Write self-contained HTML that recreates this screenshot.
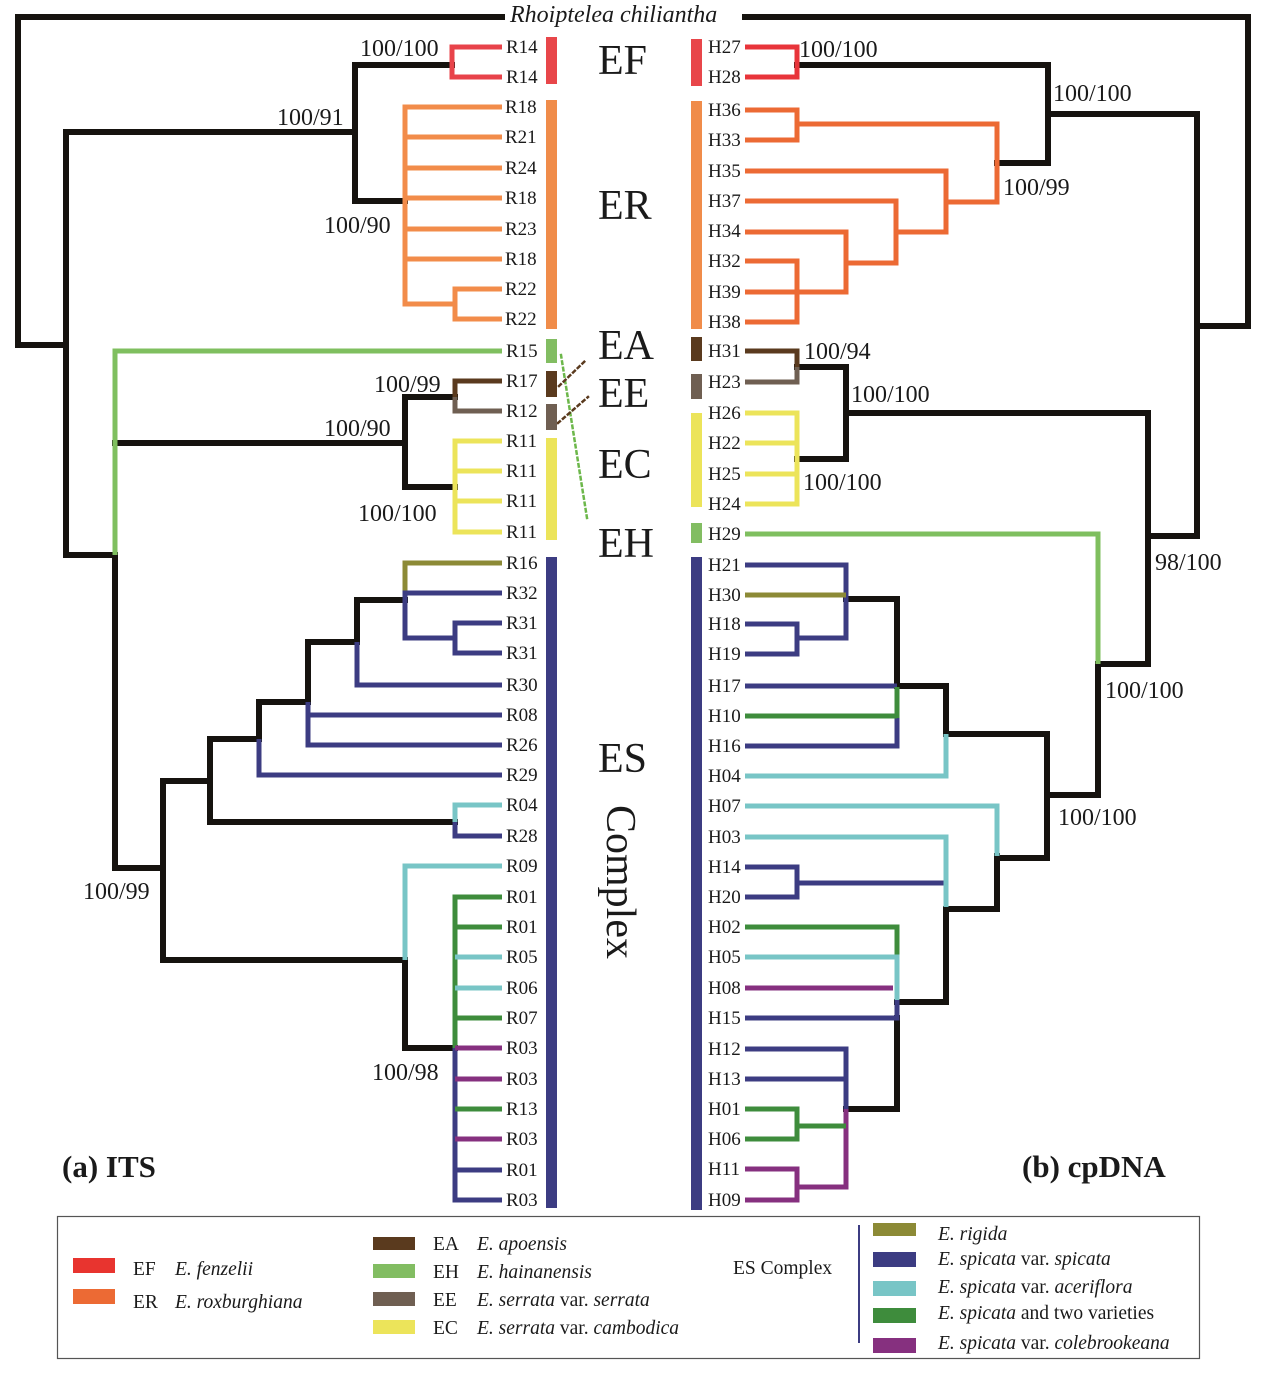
<!DOCTYPE html>
<html><head><meta charset="utf-8"><style>
html,body{margin:0;padding:0;background:#fff;}
svg{display:block;}
text{font-family:"Liberation Serif","Times New Roman",serif;fill:#1a1a1a;}
.lf{font-size:19px;}
.bs{font-size:24px;}
.big{font-size:42px;}
.lg{font-size:19.5px;}
</style></head><body>
<svg width="1269" height="1378" viewBox="0 0 1269 1378" xmlns="http://www.w3.org/2000/svg">
<g fill="none" stroke-linejoin="miter" stroke-linecap="square">
<g stroke="#16130f" stroke-width="6">
<path d="M502,17 H18 V345 H66"/>
<path d="M355,132 H66 V555 H115"/>
<path d="M452,65 H355 V201 H405"/>
<path d="M455,397 H405 V487 H455"/>
<path d="M405,443 H115"/>
<path d="M115,555 V868 H163"/>
<path d="M210,781 H163 V960 H405 V1048 H455"/>
<path d="M259,739 H210 V822 H455"/>
<path d="M308,702 H259 V739"/>
<path d="M357,642 H308 V702"/>
<path d="M405,600 H357 V642"/>
</g>
<g stroke-width="5" stroke-linecap="butt">
<path stroke="#e8434a" d="M502,47 H452 V77 H502"/>
<g stroke="#f28c4a">
<path d="M502,107 H405 V304 H455"/>
<path d="M405,137 H502 M405,168 H502 M405,198 H502 M405,229 H502 M405,259 H502"/>
<path d="M502,289 H455 V319 H502"/>
</g>
<path stroke="#7fbf5f" d="M502,351 H115 V555"/>
<path stroke="#5a3a1e" d="M502,381 H455 V397"/>
<path stroke="#6f5f52" d="M455,397 V411 H502"/>
<g stroke="#ece45a"><path d="M502,441 H455 V532 H502"/><path d="M455,471 H502 M455,501 H502"/></g>
<path stroke="#8c8a36" d="M502,563 H405 V593"/>
<g stroke="#3c3c82">
<path d="M502,593 H405 V638 H455"/>
<path d="M502,623 H455 V653 H502"/>
<path d="M357,642 V685 H502"/>
<path d="M308,702 V745 H502"/>
<path d="M308,715 H502"/>
<path d="M259,739 V775 H502"/>
<path d="M455,822 V836 H502"/>
<path d="M455,1048 V1200 H502"/>
<path d="M455,1170 H502"/>
</g>
<path stroke="#78c5c6" d="M502,805 H455 V822"/>
<path stroke="#78c5c6" d="M502,866 H405 V960"/>
<path stroke="#3e8c3c" d="M502,897 H455 V1048"/>
<path stroke="#3e8c3c" d="M455,927 H502 M455,1018 H502 M455,1109 H502"/>
<path stroke="#78c5c6" d="M455,957 H502 M455,988 H502"/>
<path stroke="#86307f" d="M455,1048 H502 M455,1079 H502 M455,1139 H502"/>
</g>
<g stroke="#16130f" stroke-width="6">
<path d="M745,17 H1248 V326 H1197"/>
<path d="M797,65 H1048 V163 H997"/>
<path d="M1048,114 H1197 V536 H1148"/>
<path d="M846,413 H1148 V664 H1098 V795 H1047"/>
<path d="M797,367 H846 V459 H797"/>
<path d="M997,858 H1047 V734 H946 V686 H897 V599 H846"/>
<path d="M997,856 V909 H946 V1002 H897"/>
<path d="M897,1018 V1109 H846"/>
</g>
<g stroke-width="5" stroke-linecap="butt">
<path stroke="#e8343a" d="M745,47 H797 V77 H745"/>
<g stroke="#ec6a34">
<path d="M745,110 H797 V140 H745"/>
<path d="M797,124 H997 V202 H946"/>
<path d="M745,171 H946 V232 H896"/>
<path d="M745,201 H896 V263 H846"/>
<path d="M745,232 H846 V292 H797"/>
<path d="M745,261 H797 V322 H745"/>
<path d="M745,292 H797"/>
</g>
<path stroke="#5a3a1e" d="M745,351 H797 V367"/>
<path stroke="#6f5f52" d="M797,367 V382 H745"/>
<g stroke="#ece45a"><path d="M745,413 H797 V504 H745"/><path d="M745,443 H797 M745,474 H797"/></g>
<path stroke="#7fbf5f" d="M745,534 H1098 V664"/>
<g stroke="#3c3c82">
<path d="M745,565 H846 V638 H797"/>
<path d="M745,624 H797 V654 H745"/>
<path d="M745,686 H897"/>
<path d="M897,718 V746 H745"/>
<path d="M946,883 H797"/>
<path d="M745,867 H797 V897 H745"/>
<path d="M897,1000 V1018 H745"/>
<path d="M745,1049 H846 V1109"/>
<path d="M745,1079 H846"/>
</g>
<path stroke="#8c8a36" d="M745,595 H846"/>
<path stroke="#3e8c3c" d="M897,687 V718 M745,716 H897"/>
<path stroke="#78c5c6" d="M946,734 V776 H745"/>
<path stroke="#78c5c6" d="M745,806 H997 V856"/>
<path stroke="#78c5c6" d="M745,837 H946 V907"/>
<path stroke="#3e8c3c" d="M745,927 H897 V957"/>
<path stroke="#78c5c6" d="M745,957 H897 V1000"/>
<path stroke="#86307f" d="M745,988 H893"/>
<path stroke="#86307f" d="M846,1109 V1187 H797"/>
<path stroke="#3e8c3c" d="M846,1126 H797 M745,1109 H797 V1139 H745"/>
<path stroke="#86307f" d="M745,1169 H797 V1200 H745"/>
</g>
<path d="M561,355 L587,518" stroke="#6cb74a" stroke-width="2.5" stroke-dasharray="2.5,4"/>
<path d="M559,386 L585,361" stroke="#5a3a1e" stroke-width="2.5" stroke-dasharray="2.5,4"/>
<path d="M558,423 L588,397" stroke="#5a3a1e" stroke-width="2.5" stroke-dasharray="2.5,4"/>
</g>
<g>
<rect x="546" y="37" width="11" height="47" fill="#e8464a"/>
<rect x="546" y="100" width="11" height="229" fill="#f08c4a"/>
<rect x="546" y="339" width="11" height="24" fill="#82bd62"/>
<rect x="546" y="371" width="11" height="26" fill="#5a3a1e"/>
<rect x="546" y="404" width="11" height="26" fill="#6f5f52"/>
<rect x="546" y="438" width="11" height="102" fill="#ece45a"/>
<rect x="546" y="557" width="11" height="651" fill="#3c3c82"/>
<rect x="691" y="39" width="11" height="47" fill="#e8464a"/>
<rect x="691" y="101" width="11" height="228" fill="#f08c4a"/>
<rect x="691" y="337" width="11" height="24" fill="#5a3a1e"/>
<rect x="691" y="374" width="11" height="25" fill="#6f5f52"/>
<rect x="691" y="413" width="11" height="94" fill="#ece45a"/>
<rect x="691" y="523" width="11" height="20" fill="#82bd62"/>
<rect x="691" y="557" width="11" height="653" fill="#3c3c82"/>
</g>
<g class="lf">
<text x="506" y="53">R14</text><text x="506" y="83">R14</text>
<text x="505" y="113">R18</text><text x="505" y="143">R21</text><text x="505" y="174">R24</text><text x="505" y="204">R18</text>
<text x="505" y="235">R23</text><text x="505" y="265">R18</text><text x="505" y="295">R22</text><text x="505" y="325">R22</text>
<text x="506" y="357">R15</text><text x="506" y="387">R17</text><text x="506" y="417">R12</text>
<text x="506" y="447">R11</text><text x="506" y="477">R11</text><text x="506" y="507">R11</text><text x="506" y="538">R11</text>
<text x="506" y="569">R16</text><text x="506" y="599">R32</text><text x="506" y="629">R31</text><text x="506" y="659">R31</text>
<text x="506" y="691">R30</text><text x="506" y="721">R08</text><text x="506" y="751">R26</text><text x="506" y="781">R29</text>
<text x="506" y="811">R04</text><text x="506" y="842">R28</text><text x="506" y="872">R09</text><text x="506" y="903">R01</text>
<text x="506" y="933">R01</text><text x="506" y="963">R05</text><text x="506" y="994">R06</text><text x="506" y="1024">R07</text>
<text x="506" y="1054">R03</text><text x="506" y="1085">R03</text><text x="506" y="1115">R13</text><text x="506" y="1145">R03</text>
<text x="506" y="1176">R01</text><text x="506" y="1206">R03</text>
</g>
<g class="lf">
<text x="708" y="53">H27</text><text x="708" y="83">H28</text>
<text x="708" y="116">H36</text><text x="708" y="146">H33</text><text x="708" y="177">H35</text><text x="708" y="207">H37</text>
<text x="708" y="237">H34</text><text x="708" y="267">H32</text><text x="708" y="298">H39</text><text x="708" y="328">H38</text>
<text x="708" y="357">H31</text><text x="708" y="388">H23</text>
<text x="708" y="419">H26</text><text x="708" y="449">H22</text><text x="708" y="480">H25</text><text x="708" y="510">H24</text>
<text x="708" y="540">H29</text>
<text x="708" y="571">H21</text><text x="708" y="601">H30</text><text x="708" y="630">H18</text><text x="708" y="660">H19</text>
<text x="708" y="692">H17</text><text x="708" y="722">H10</text><text x="708" y="752">H16</text><text x="708" y="782">H04</text>
<text x="708" y="812">H07</text><text x="708" y="843">H03</text><text x="708" y="873">H14</text><text x="708" y="903">H20</text>
<text x="708" y="933">H02</text><text x="708" y="963">H05</text><text x="708" y="994">H08</text><text x="708" y="1024">H15</text>
<text x="708" y="1055">H12</text><text x="708" y="1085">H13</text><text x="708" y="1115">H01</text><text x="708" y="1145">H06</text>
<text x="708" y="1175">H11</text><text x="708" y="1206">H09</text>
</g>
<g class="bs">
<text x="360" y="56">100/100</text>
<text x="277" y="125">100/91</text>
<text x="324" y="233">100/90</text>
<text x="374" y="392">100/99</text>
<text x="324" y="436">100/90</text>
<text x="358" y="521">100/100</text>
<text x="83" y="899">100/99</text>
<text x="372" y="1080">100/98</text>
<text x="799" y="57">100/100</text>
<text x="1053" y="101">100/100</text>
<text x="1003" y="195">100/99</text>
<text x="804" y="359">100/94</text>
<text x="851" y="402">100/100</text>
<text x="803" y="490">100/100</text>
<text x="1155" y="570">98/100</text>
<text x="1105" y="698">100/100</text>
<text x="1058" y="825">100/100</text>
</g>
<text x="510" y="22" font-size="24" font-style="italic">Rhoiptelea chiliantha</text>
<g class="big">
<text x="598" y="74">EF</text>
<text x="598" y="219">ER</text>
<text x="598" y="359">EA</text>
<text x="598" y="407">EE</text>
<text x="598" y="478">EC</text>
<text x="598" y="557">EH</text>
<text x="598" y="772">ES</text>
<text transform="translate(607,805) rotate(90)">Complex</text>
</g>
<text x="62" y="1177" font-size="31" font-weight="bold">(a) ITS</text>
<text x="1022" y="1177" font-size="31" font-weight="bold">(b) cpDNA</text>
<rect x="57.5" y="1216.5" width="1142" height="142" fill="none" stroke="#555" stroke-width="1.2"/>
<rect x="73" y="1258" width="42" height="15" fill="#e8342f"/>
<rect x="73" y="1289" width="42" height="15" fill="#ec6a34"/>
<g class="lg">
<text x="133" y="1275">EF</text><text x="175" y="1275" font-style="italic">E. fenzelii</text>
<text x="133" y="1308">ER</text><text x="175" y="1308" font-style="italic">E. roxburghiana</text>
</g>
<rect x="373" y="1237" width="42" height="13" fill="#5a3a1e"/>
<rect x="373" y="1264" width="42" height="14" fill="#82bd62"/>
<rect x="373" y="1292" width="42" height="14" fill="#6f5f52"/>
<rect x="373" y="1320" width="42" height="14" fill="#ece45a"/>
<g class="lg">
<text x="433" y="1250">EA</text><text x="477" y="1250" font-style="italic">E. apoensis</text>
<text x="433" y="1278">EH</text><text x="477" y="1278" font-style="italic">E. hainanensis</text>
<text x="433" y="1306">EE</text><text x="477" y="1306"><tspan font-style="italic">E. serrata</tspan> var. <tspan font-style="italic">serrata</tspan></text>
<text x="433" y="1334">EC</text><text x="477" y="1334"><tspan font-style="italic">E. serrata</tspan> var. <tspan font-style="italic">cambodica</tspan></text>
<text x="733" y="1274">ES Complex</text>
</g>
<line x1="859" y1="1225" x2="859" y2="1343" stroke="#3c3c82" stroke-width="2"/>
<rect x="873" y="1223" width="43" height="13" fill="#8c8a36"/>
<rect x="873" y="1252" width="43" height="15" fill="#3c3c82"/>
<rect x="873" y="1281" width="43" height="15" fill="#78c5c6"/>
<rect x="873" y="1308" width="43" height="15" fill="#3e8c3c"/>
<rect x="873" y="1338" width="43" height="15" fill="#86307f"/>
<g class="lg">
<text x="938" y="1240" font-style="italic">E. rigida</text>
<text x="938" y="1265"><tspan font-style="italic">E. spicata</tspan> var. <tspan font-style="italic">spicata</tspan></text>
<text x="938" y="1293"><tspan font-style="italic">E. spicata</tspan> var. <tspan font-style="italic">aceriflora</tspan></text>
<text x="938" y="1319"><tspan font-style="italic">E. spicata</tspan> and two varieties</text>
<text x="938" y="1349"><tspan font-style="italic">E. spicata</tspan> var. <tspan font-style="italic">colebrookeana</tspan></text>
</g>
</svg>
</body></html>
